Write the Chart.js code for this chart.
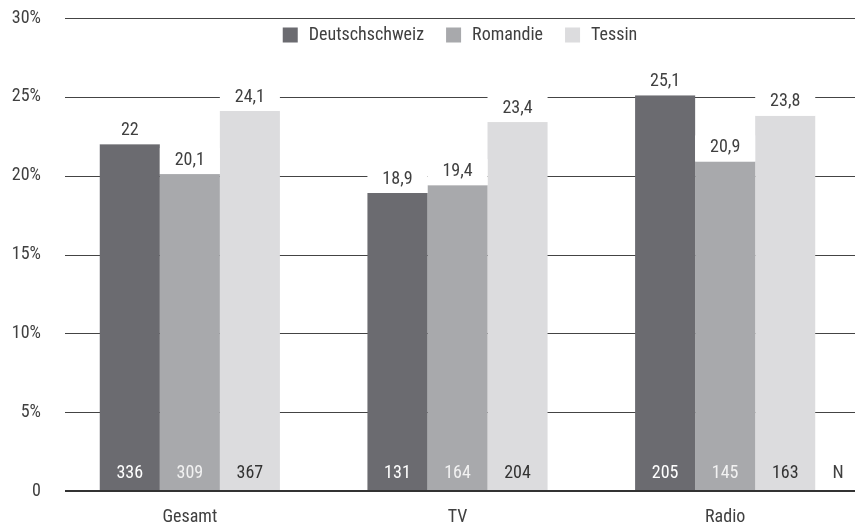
<!DOCTYPE html>
<html>
<head>
<meta charset="utf-8">
<script src="https://cdn.jsdelivr.net/npm/chart.js@4/dist/chart.umd.min.js"></script>
<style>
  html, body { margin: 0; padding: 0; background: #fff; }
  #wrap { width: 861px; height: 526px; position: relative; }
</style>
</head>
<body>
<div id="wrap"><canvas id="myChart"></canvas></div>
<script>
const labels = ['Gesamt', 'TV', 'Radio'];
const regions = ['Deutschschweiz', 'Romandie', 'Tessin'];
const deutschschweiz = [22, 18.9, 25.1];
const romandie = [20.1, 19.4, 20.9];
const tessin = [24.1, 23.4, 23.8];
const nDeutschschweiz = [336, 131, 205];
const nRomandie = [309, 164, 145];
const nTessin = [367, 204, 163];
const yTicks = [0, 5, 10, 15, 20, 25, 30];

const FONT = '"Liberation Sans Narrow", "Roboto Condensed", "DejaVu Sans Condensed", sans-serif';
const TEXT = '#404040';
Chart.defaults.font.family = FONT;
Chart.defaults.font.size = 18;
Chart.defaults.color = TEXT;

const counts = [nDeutschschweiz, nRomandie, nTessin];
const countColors = ['#ffffff', '#f2f2f2', '#333333'];

const data = {
    labels: labels,
    datasets: [
        { label: regions[0], data: deutschschweiz, backgroundColor: '#6b6b70' },
        { label: regions[1], data: romandie, backgroundColor: '#a8a9ac' },
        { label: regions[2], data: tessin, backgroundColor: '#dcdcde' },
    ],
};

const fmt = (v) => String(v).replace('.', ',');

// grid lines below the bars, a bit shorter than the chart area
const gridPlugin = {
    id: 'gridLines',
    beforeDatasetsDraw: (chart) => {
        const { ctx, chartArea } = chart;
        const y = chart.scales.y;
        ctx.save();
        ctx.strokeStyle = '#444';
        ctx.lineWidth = 1;
        yTicks.forEach((t) => {
            if (t === 0) return;
            const py = Math.round(y.getPixelForValue(t)) + 0.5;
            ctx.beginPath();
            ctx.moveTo(chartArea.left + 9, py);
            ctx.lineTo(chartArea.right - 4, py);
            ctx.stroke();
        });
        ctx.restore();
    },
};

// value labels above bars, counts inside bars, zero line, legend
const labelPlugin = {
    id: 'barLabels',
    afterDatasetsDraw: (chart) => {
        const { ctx, chartArea } = chart;
        ctx.save();
        ctx.font = '18px ' + FONT;
        ctx.textAlign = 'center';
        ctx.textBaseline = 'middle';
        chart.data.datasets.forEach((ds, i) => {
            const meta = chart.getDatasetMeta(i);
            meta.data.forEach((bar, j) => {
                const w = bar.width;
                ctx.fillStyle = '#fff';
                ctx.fillRect(bar.x - w / 2, bar.y - 26, w, 26);
                ctx.fillStyle = TEXT;
                ctx.fillText(fmt(ds.data[j]), bar.x, bar.y - 14);
                ctx.fillStyle = countColors[i];
                ctx.fillText(counts[i][j], bar.x, chartArea.bottom - 18);
            });
        });
        ctx.fillStyle = TEXT;
        ctx.fillText('N', chartArea.right - 21, chartArea.bottom - 18);

        const y0 = chart.scales.y.getPixelForValue(0);
        ctx.strokeStyle = '#333';
        ctx.lineWidth = 2;
        ctx.beginPath();
        ctx.moveTo(chartArea.left + 9, y0);
        ctx.lineTo(chartArea.right - 4, y0);
        ctx.stroke();

        // legend
        const box = 15, gapText = 11, gapItem = 22;
        const widths = chart.data.datasets.map((ds) => ctx.measureText(ds.label).width);
        const total = widths.reduce((a, w) => a + box + gapText + w, 0) + gapItem * (widths.length - 1);
        let x = (chartArea.left + 9 + chartArea.right - 4) / 2 - total / 2;
        const cy = chartArea.top + 17;
        ctx.textAlign = 'left';
        chart.data.datasets.forEach((ds, i) => {
            ctx.fillStyle = ds.backgroundColor;
            ctx.fillRect(x, cy - box / 2, box, box);
            x += box + gapText;
            ctx.fillStyle = TEXT;
            ctx.fillText(ds.label, x, cy);
            x += widths[i] + gapItem;
        });
        ctx.restore();
    },
};

const config = {
    type: 'bar',
    data: data,
    options: {
        responsive: true,
        maintainAspectRatio: false,
        animation: false,
        layout: { padding: { top: 18, right: 2, left: 0, bottom: 0 } },
        datasets: {
            bar: { categoryPercentage: 0.673, barPercentage: 1 },
        },
        scales: {
            x: {
                grid: { display: false, drawTicks: false },
                border: { display: false },
                ticks: { padding: 16 },
                afterFit: (s) => { s.height = 35; },
            },
            y: {
                min: 0,
                max: 30,
                grid: { display: false, drawTicks: false },
                border: { display: false },
                afterBuildTicks: (s) => { s.ticks = yTicks.map((v) => ({ value: v })); },
                ticks: {
                    padding: 15,
                    callback: (v) => (v === 0 ? '0' : v + '%'),
                },
                afterFit: (s) => {
                    s.width = 56;
                    s.paddingTop = 0;
                    s.paddingBottom = 0;
                },
            },
        },
        plugins: {
            legend: { display: false },
            tooltip: { enabled: false },
        },
    },
    plugins: [gridPlugin, labelPlugin],
};

const myChart = new Chart(document.getElementById('myChart'), config);
</script>
</body>
</html>
